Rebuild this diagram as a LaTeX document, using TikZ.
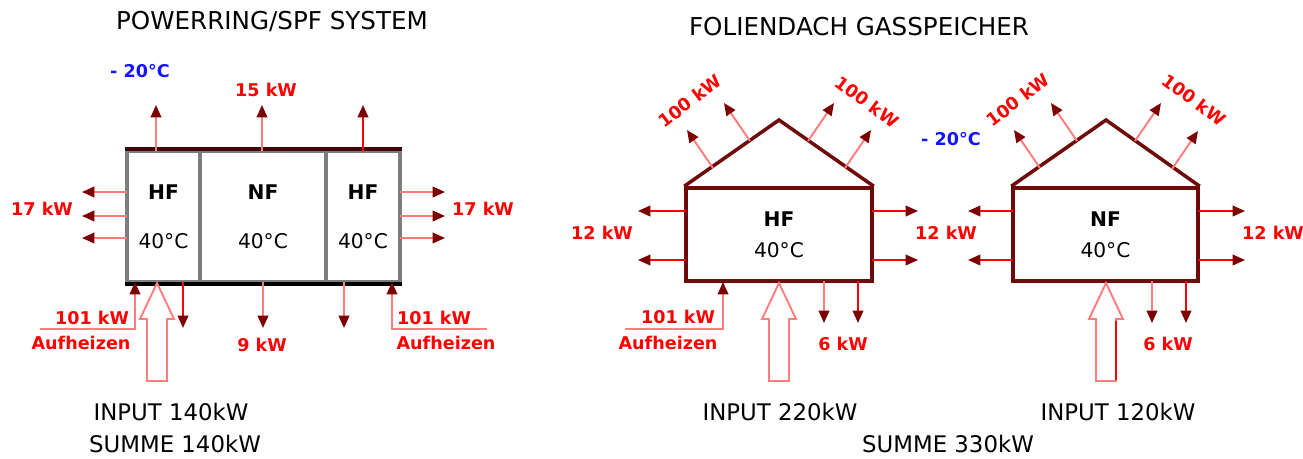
\documentclass[tikz,border=0pt]{standalone}
\usepackage{fontspec}
\setmainfont{DejaVu Sans}
\usetikzlibrary{arrows.meta, calc}
\definecolor{hotred}{RGB}{255,0,0}
\definecolor{lightred}{RGB}{255,125,125}
\definecolor{tipred}{RGB}{125,0,0}
\definecolor{wallred}{RGB}{110,10,10}
\definecolor{cellgray}{RGB}{125,125,125}
\definecolor{coldblue}{RGB}{20,20,255}

\tikzset{
  flow/.style={draw=lightred, line width=1.1pt,
               -{Triangle[length=7pt,width=6pt,color=tipred]}},
  hotflow/.style={flow, draw=hotred},
  kwtext/.style={text=hotred, inner sep=0pt,
                 font=\fontsize{10}{12}\selectfont\bfseries},
  tempblue/.style={kwtext, text=coldblue},
  headline/.style={inner sep=0pt, font=\fontsize{14}{16}\selectfont},
  sumtext/.style={inner sep=0pt, font=\fontsize{13}{15}\selectfont},
  cellbox/.style={draw=cellgray, line width=2.2pt, minimum height=2.62cm,
                  align=center, inner sep=0pt,
                  font=\fontsize{11.5}{28}\selectfont},
  housebox/.style={draw=wallred, line width=2pt, minimum width=3.72cm,
                   minimum height=1.86cm, align=center, inner sep=0pt,
                   font=\fontsize{11.5}{17.6}\selectfont},
  roofline/.style={draw=wallred, line width=2pt, line join=miter},
  inarrow/.pic={
    \draw[draw=lightred, line width=1.1pt, fill=white]
      (0,0) -- (17,36) -- (10,36) -- (10,98) -- (-10,98) -- (-10,36)
      -- (-17,36) -- cycle;
  }
}

\begin{document}
\begin{tikzpicture}[x=0.02cm, y=-0.02cm]
  \useasboundingbox (0,0) rectangle (1303,458);

  % --- Powerring / SPF system
  \node[headline] (titleA) at (272,22) {POWERRING/SPF SYSTEM};
  \node[tempblue] (coldA) at (140,71) {- 20°C};
  \node[kwtext] (topA) at (266,90) {15 kW};

  \node[cellbox, minimum width=1.46cm] (hfL) at (163.5,216.5)
       {\textbf{HF}\\40°C};
  \node[cellbox, minimum width=2.52cm] (nfM) at (263,216.5)
       {\textbf{NF}\\40°C};
  \node[cellbox, minimum width=1.48cm] (hfR) at (363,216.5)
       {\textbf{HF}\\40°C};
  \draw[line width=2.2pt, draw=wallred!60!black]
       (hfL.north west) -- (hfR.north east);
  \draw[line width=2.2pt, draw=black]
       (hfL.south west) -- (hfR.south east);

  \draw[flow] (156,151) -- (156,105);
  \draw[flow] (262,151) -- (262,105);
  \draw[hotflow] (363,151) -- (363,105);
  \foreach \yy in {192,216,238} {
    \draw[flow] (127,\yy) -- (82,\yy);
    \draw[flow] (400,\yy) -- (445,\yy);
  }
  \node[kwtext] (sideAL) at (42,209) {17 kW};
  \node[kwtext] (sideAR) at (483,209) {17 kW};

  \draw[flow] (40,329) -- (135,329) -- (135,282);
  \draw[flow] (487,329) -- (392,329) -- (392,282);
  \node[kwtext] (heatAL) at (92,318) {101 kW};
  \node[kwtext] (heatALt) at (81,343) {Aufheizen};
  \node[kwtext] (heatAR) at (434,318) {101 kW};
  \node[kwtext] (heatARt) at (446,343) {Aufheizen};

  \draw[hotflow] (183,282) -- (183,328);
  \draw[flow] (263,282) -- (263,328);
  \draw[flow] (344,282) -- (344,328);
  \node[kwtext] (lossA) at (262,345) {9 kW};
  \pic at (157,283) {inarrow};

  \node[sumtext] (inA) at (171,412) {INPUT 140kW};
  \node[sumtext] (sumA) at (175,444) {SUMME 140kW};

  % --- Foliendach Gasspeicher
  \node[headline] (titleB) at (859,27) {FOLIENDACH GASSPEICHER};
  \node[tempblue] (coldB) at (951,139) {- 20°C};

  \node[housebox] (hf1) at (779,234.5) {\textbf{HF}\\40°C};
  \coordinate (apex1) at (779,120);
  \draw[roofline] (hf1.north west) -- (apex1) -- (hf1.north east);

  \node[housebox, minimum width=3.7cm] (nf2) at (1105.5,234.5)
       {\textbf{NF}\\40°C};
  \coordinate (apex2) at (1106,120);
  \draw[roofline] (nf2.north west) -- (apex2) -- (nf2.north east);

  % roof losses
  \draw[flow] (713,168) -- ++(-26,-38);
  \draw[flow] (750,141) -- ++(-26,-38);
  \draw[flow] (808,141) -- ++(26,-38);
  \draw[flow] (845,168) -- ++(26,-38);
  \draw[flow] (1040,168) -- ++(-26,-38);
  \draw[flow] (1077,141) -- ++(-26,-38);
  \draw[flow] (1135,141) -- ++(26,-38);
  \draw[flow] (1172,169) -- ++(26,-38);
  \node[kwtext, rotate=37] (roof1L) at (690,101) {100 kW};
  \node[kwtext, rotate=-37] (roof1R) at (867,102) {100 kW};
  \node[kwtext, rotate=37] (roof2L) at (1018,100) {100 kW};
  \node[kwtext, rotate=-37] (roof2R) at (1194,100) {100 kW};

  % side losses
  \foreach \yy in {211,260} {
    \draw[hotflow] (686,\yy) -- (638,\yy);
    \draw[hotflow] (872,\yy) -- (918,\yy);
    \draw[hotflow] (1013,\yy) -- (968,\yy);
    \draw[hotflow] (1198,\yy) -- (1245,\yy);
  }
  \node[kwtext] (side1L) at (602,233) {12 kW};
  \node[kwtext] (side1R) at (946,233) {12 kW};
  \node[kwtext] (side2R) at (1273,233) {12 kW};

  % bottom
  \draw[flow] (625,329) -- (723,329) -- (723,282);
  \node[kwtext] (heat1) at (678,317) {101 kW};
  \node[kwtext] (heat1t) at (668,343) {Aufheizen};
  \pic at (779,283) {inarrow};
  \draw[flow] (824,281) -- (824,323);
  \draw[hotflow] (858,281) -- (858,323);
  \node[kwtext] (loss1) at (843,344) {6 kW};

  \pic at (1106,283) {inarrow};
  \draw[draw=hotred, line width=1.1pt] (1116,321) -- (1116,380);
  \draw[flow] (1152,281) -- (1152,323);
  \draw[hotflow] (1186,281) -- (1186,323);
  \node[kwtext] (loss2) at (1168,344) {6 kW};

  \node[sumtext] (in1) at (780,412) {INPUT 220kW};
  \node[sumtext] (in2) at (1118,412) {INPUT 120kW};
  \node[sumtext] (sumB) at (948,444) {SUMME 330kW};
\end{tikzpicture}
\end{document}
